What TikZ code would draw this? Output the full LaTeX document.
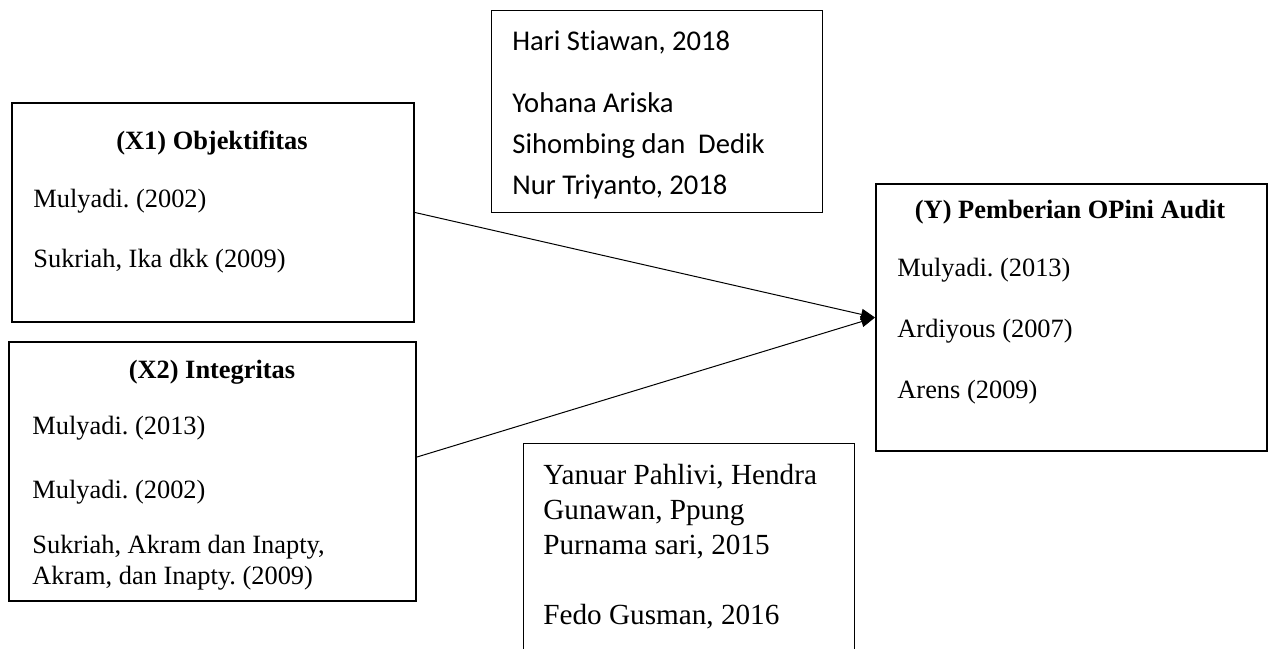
\documentclass[tikz,border=0pt]{standalone}
\usepackage{fontspec}
\setmainfont{Liberation Serif}[Ligatures={TeX,NoCommon}]
\newfontfamily\calibri{Carlito}[Ligatures=NoCommon]
\usepackage{tikz}
\usetikzlibrary{arrows.meta, positioning, calc}
\frenchspacing

\begin{document}
\begin{tikzpicture}[
    x=0.5pt, y=-0.5pt,
    varbox/.style={draw, line width=1pt, anchor=north west, inner sep=0pt},
    refbox/.style={draw, line width=0.5pt, anchor=north west, inner sep=0pt},
    judul/.style={font=\fontsize{13.2}{15}\selectfont\bfseries, inner sep=0pt},
    sumber/.style={font=\fontsize{13.2}{15}\selectfont, anchor=west, inner sep=0pt},
    link/.style={-{Triangle[length=7pt, width=5.5pt]}, line width=0.5pt}
]
    \useasboundingbox (0,0) rectangle (1272,648);

    % variabel X1
    \node[varbox, minimum width=201pt, minimum height=109.5pt] (objektif) at (11,102) {};
    \node[judul] (objektifT) at (212,143) {(X1) Objektifitas};
    \node[sumber] (objektifA) at (33,201) {Mulyadi. (2002)};
    \node[sumber] (objektifB) at (33,261) {Sukriah, Ika dkk (2009)};

    % variabel X2
    \node[varbox, minimum width=203.5pt, minimum height=129.5pt] (integ) at (8,341) {};
    \node[judul] (integT) at (212,372) {(X2) Integritas};
    \node[sumber] (integA) at (32,428) {Mulyadi. (2013)};
    \node[sumber] (integB) at (32,492) {Mulyadi. (2002)};
    \node[sumber, anchor=north west, align=left,
          font=\fontsize{13.2}{15.2}\selectfont] (integC) at (32,535)
        {Sukriah, Akram dan Inapty,\\Akram, dan Inapty. (2009)};

    % variabel Y
    \node[varbox, minimum width=195.5pt, minimum height=133.5pt] (opini) at (875,183) {};
    \node[judul] (opiniT) at (1070,212) {(Y) Pemberian OPini Audit};
    \node[sumber] (opiniA) at (897,270) {Mulyadi. (2013)};
    \node[sumber] (opiniB) at (897,331) {Ardiyous (2007)};
    \node[sumber] (opiniC) at (897,392) {Arens (2009)};

    % penelitian terdahulu (atas)
    \node[refbox, minimum width=165.5pt, minimum height=101pt] (refatas) at (491,10) {};
    \node[sumber, font=\calibri\fontsize{14.3}{20.5}\selectfont] (refatasA) at (512,42)
        {Hari Stiawan, 2018};
    \node[sumber, anchor=north west, align=left,
          font=\calibri\fontsize{14.3}{20.5}\selectfont] (refatasB) at (512,92)
        {Yohana Ariska\\Sihombing dan~ Dedik\\Nur Triyanto, 2018};

    % penelitian terdahulu (bawah)
    \node[refbox, draw=none, minimum width=165pt, minimum height=102.5pt] (refbawah) at (523,443) {};
    \draw[line width=0.5pt] (refbawah.south west) |- (refbawah.north east) -- (refbawah.south east);
    \node[sumber, anchor=north west, align=left,
          font=\fontsize{14.6}{17.5}\selectfont] (refbawahA) at (543,464)
        {Yanuar Pahlivi, Hendra\\Gunawan, Ppung\\Purnama sari, 2015};
    \node[sumber, font=\fontsize{14.6}{17.5}\selectfont] (refbawahB) at (543,617)
        {Fedo Gusman, 2016};

    % panah
    \coordinate (integOut) at ($(integ.north east)+(0,116)$);
    \draw[link] (objektif.east) -- (opini.west);
    \draw[link] (integOut) -- (opini.west);
\end{tikzpicture}
\end{document}
